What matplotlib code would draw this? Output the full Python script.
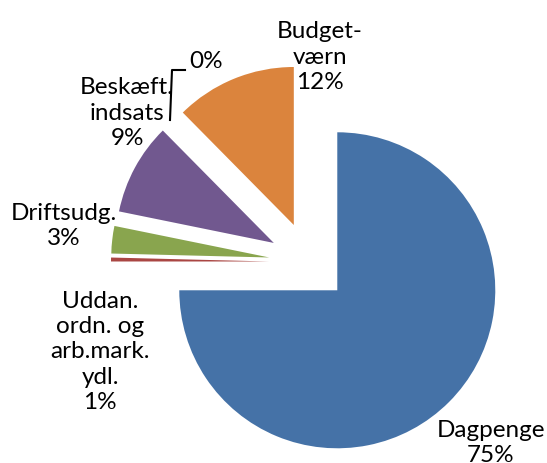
import matplotlib
matplotlib.use("Agg")
import matplotlib.pyplot as plt
from matplotlib.lines import Line2D

categories = ["Dagpenge", "Uddan. ordn. og arb.mark. ydl.", "Driftsudg.",
              "Beskæft. indsats", "Andet", "Budget-værn"]
values = [75.0, 0.4, 2.8, 9.4, 0.0, 12.4]
pct_labels = ["75%", "1%", "3%", "9%", "0%", "12%"]
colors = ["#4572A7", "#AA4643", "#89A54E", "#71588F", "#4198AF", "#DB843D"]

W, H = 547, 463
fig = plt.figure(figsize=(W / 100, H / 100), dpi=100)
ax = fig.add_axes([0, 0, 1, 1])

cx, cy, R = 309, H - 262, 158
explode = [40] * len(values)
wedges, _ = ax.pie(values, colors=colors, startangle=90, counterclock=False,
                   explode=explode, radius=R, center=(cx, cy), frame=True,
                   wedgeprops=dict(linewidth=0))
ax.set_xlim(0, W)
ax.set_ylim(0, H)
ax.set_aspect("equal")
ax.set_axis_off()

font = dict(family="Lato", fontsize=17.5, color="black", ha="center", va="center",
            linespacing=1.25)

def put(x, y, s):
    ax.text(x, H - y, s, **font)

put(491, 443, "Dagpenge\n75%")
put(100, 352, "Uddan.\nordn. og\narb.mark.\nydl.\n1%")
put(64, 226, "Driftsudg.\n3%")
put(127, 113, "Beskæft.\nindsats\n9%")
put(206, 62, "0%")
put(320, 57, "Budget-\nværn\n12%")

ax.add_line(Line2D([170, 172, 185], [H - 120, H - 70, H - 70], color="black", lw=1.5))

fig.savefig("out.png", dpi=100)
